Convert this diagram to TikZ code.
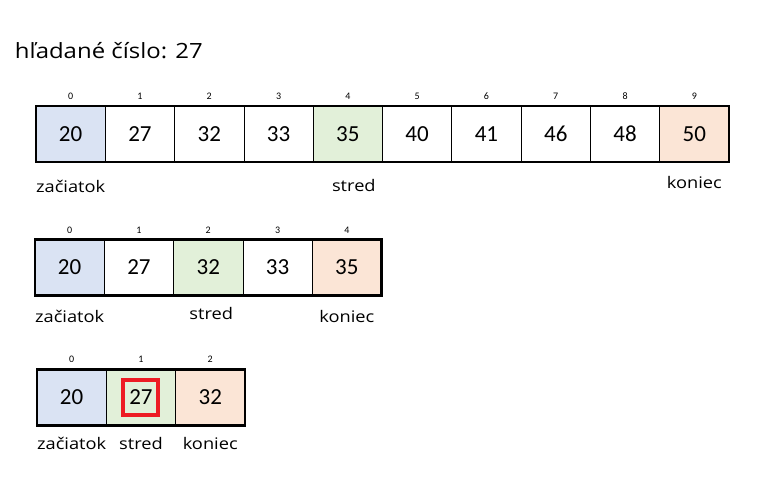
\documentclass[tikz,border=0pt]{standalone}
\usepackage{fontspec}
\setmainfont{Carlito}
\newfontfamily\labelfont[FakeStretch=1.14]{Open Sans}
\usetikzlibrary{positioning}

\begin{document}
\begin{tikzpicture}[
		x=1pt, y=-1pt,
		%Option for the cells
		inner sep=0pt, outer sep=0pt,%
		cell/.style={draw, line width=0.8pt, fill=#1, minimum width=69.3pt,
			minimum height=56pt, font=\fontsize{23}{26}\selectfont},
		idx/.style={font=\fontsize{10}{12}\selectfont},
		lbl/.style={font=\labelfont\fontsize{16}{20}\selectfont},
		frame/.style={line width=2.8pt},
		hit/.style={draw=hitred, line width=4pt, minimum size=35pt},
	]
		% Colors
		\definecolor{startblue}{RGB}{218,227,243}
		\definecolor{midgreen}{RGB}{226,240,217}
		\definecolor{endorange}{RGB}{251,229,214}
		\definecolor{hitred}{RGB}{237,28,36}

		\useasboundingbox (0,0) rectangle (764,490);

		% Title
		\node[anchor=base west, font=\labelfont\fontsize{21}{24}\selectfont] (title)
			at (15,58) {hľadané číslo: 27};

		% First step
		\foreach \v/\f [count=\i from 0] in {20/startblue, 27/white, 32/white,
			33/white, 35/midgreen, 40/white, 41/white, 46/white, 48/white,
			50/endorange} {
			\node[cell=\f] (a\i) at (36+34.65+69.3*\i, 134) {\v};
			\node[idx, above=7pt of a\i, anchor=base] (ai\i) {\i};
		}
		\draw[frame] (a0.north west) rectangle (a9.south east);
		\node[lbl, below=30pt of a0, anchor=base] (astart) {začiatok};
		\node[lbl, below=29pt of a4, anchor=base, xshift=6pt] (amid) {stred};
		\node[lbl, below=26pt of a9, anchor=base] (aend) {koniec};

		% Second step
		\foreach \v/\f [count=\i from 0] in {20/startblue, 27/white,
			32/midgreen, 33/white, 35/endorange} {
			\node[cell=\f] (b\i) at (35+34.65+69.3*\i, 267.5) {\v};
			\node[idx, above=6pt of b\i, anchor=base] (bi\i) {\i};
		}
		\draw[frame] (b0.north west) rectangle (b4.south east);
		\node[lbl, below=27pt of b0, anchor=base] (bstart) {začiatok};
		\node[lbl, below=24pt of b2, anchor=base, xshift=3pt] (bmid) {stred};
		\node[lbl, below=27pt of b4, anchor=base] (bend) {koniec};

		% Third step
		\foreach \v/\f [count=\i from 0] in {20/startblue, 27/midgreen,
			32/endorange} {
			\node[cell=\f] (c\i) at (37+34.65+69.3*\i, 397.5) {\v};
			\node[idx, above=7pt of c\i, anchor=base] (ci\i) {\i};
		}
		\draw[frame] (c0.north west) rectangle (c2.south east);
		\node[lbl, below=24pt of c0, anchor=base] (cstart) {začiatok};
		\node[lbl, below=24pt of c1, anchor=base] (cmid) {stred};
		\node[lbl, below=24pt of c2, anchor=base] (cend) {koniec};

		% Found
		\node[hit] (found) at (c1) {};
	\end{tikzpicture}
\end{document}
